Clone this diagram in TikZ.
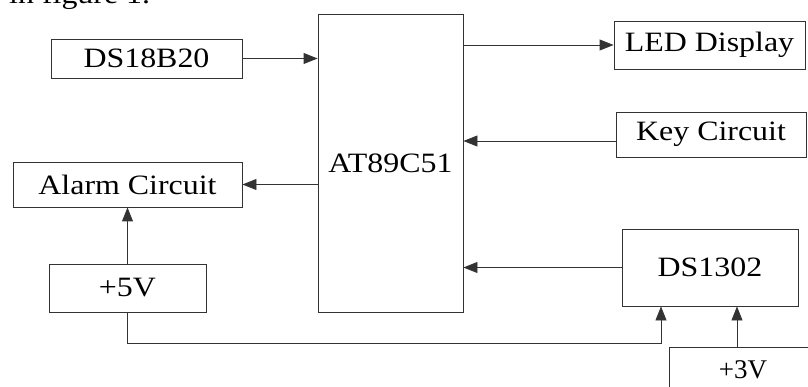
\documentclass[tikz,border=0pt]{standalone}
\usepackage{fontspec}
\setmainfont{Liberation Serif}[FakeStretch=1.14]
\newfontfamily\plainserif{Liberation Serif}
\usetikzlibrary{arrows.meta}
\begin{document}
\begin{tikzpicture}[x=1pt,y=-1pt,
  box/.style={draw=black!80,line width=0.9pt,rectangle,inner sep=0pt,
    font=\fontsize{28}{32}\selectfont},
  arr/.style={draw=black!80,line width=0.9pt,-{Triangle[length=14pt,width=11pt]}},
  wire/.style={draw=black!80,line width=0.9pt}]
\useasboundingbox (0,0) rectangle (808,387);
\node[anchor=base west,inner sep=0pt,font=\fontsize{28}{32}\selectfont] (cap) at (9,4) {in figure 1.};
\node[box,minimum width=191pt,minimum height=39pt] (ds18) at (146.5,58.5) {DS18B20};
\node[box,minimum width=145pt,minimum height=298pt] (mcu) at (390.5,163) {AT89C51};
\node[box,minimum width=191pt,minimum height=48pt] (led) at (709.5,45) {LED Display};
\node[box,minimum width=190pt,minimum height=45pt] (key) at (711,134.5) {Key Circuit};
\node[box,minimum width=229pt,minimum height=45pt] (alarm) at (127.5,184.5) {Alarm Circuit};
\node[box,minimum width=157pt,minimum height=48pt] (p5) at (127.5,288) {+5V};
\node[box,minimum width=176pt,minimum height=77pt] (ds13) at (710,267.5) {DS1302};
\node[box,minimum width=148pt,minimum height=46pt,font=\plainserif\fontsize{27}{30}\selectfont] (p3) at (743,370) {+3V};
\coordinate (bus) at (661,343);
\draw[arr] (ds18.east) -- (ds18.east -| mcu.west);
\draw[arr] (led.west -| mcu.east) -- (led.west);
\draw[arr] ([yshift=-6.5pt]key.west) -- ([yshift=-6.5pt]key.west -| mcu.east);
\draw[arr] (alarm.east -| mcu.west) -- (alarm.east);
\draw[arr] (ds13.west) -- (ds13.west -| mcu.east);
\draw[arr] (p5.north) -- (alarm.south);
\draw[arr] (p5.south) -- (p5.south |- bus) -- (bus) -- (bus |- ds13.south);
\draw[arr] ([xshift=-6pt]p3.north) -- ([xshift=-6pt]p3.north |- ds13.south);
\end{tikzpicture}
\end{document}
